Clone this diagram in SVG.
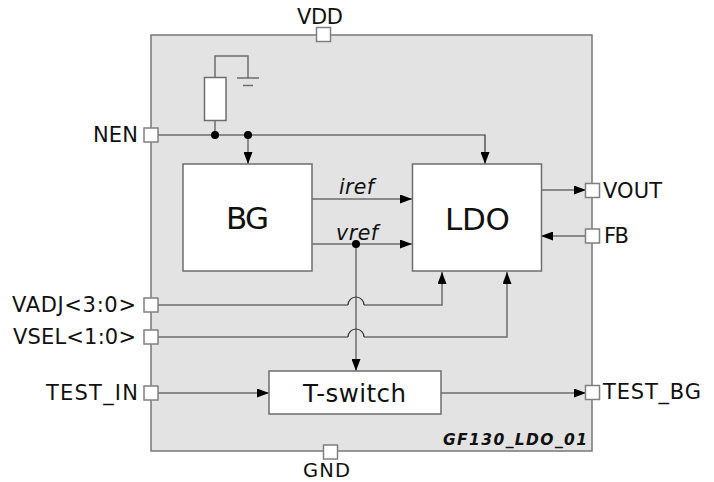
<svg xmlns="http://www.w3.org/2000/svg" width="714" height="482" viewBox="0 0 714 482">
<defs>
<marker id="arr" markerUnits="userSpaceOnUse" markerWidth="13" markerHeight="9" refX="12" refY="4.500" orient="auto"><path d="M0,0 L12,4.500 L0,9 Z" fill="#000"/></marker>
</defs>
<style>
text{font-family:"DejaVu Sans",sans-serif;fill:#111}
.lbl{font-size:21px}
.sig{font-size:20.500px;font-style:italic}
.big{font-size:31px}
.blk{fill:#fff;stroke:#6e6e6e;stroke-width:1.5}
.port{fill:#fff;stroke:#808080;stroke-width:1.5}
.w{fill:none;stroke:#333;stroke-width:1.2}
.g{fill:none;stroke:#6e6e6e;stroke-width:1.5}
.ar{marker-end:url(#arr)}
</style>
<rect id="chip" x="151" y="35" width="441" height="416" fill="#e3e3e3" stroke="#777" stroke-width="1.5"/>
<g id="connectors">
<path class="g" d="M215,77 V56 H248 V78"/>
<path class="g" d="M237,78 H259 M243,85.500 H253"/>
<path class="g" d="M215,121 V135"/>
<path class="w ar" d="M158,135 H485 V164"/>
<path class="g ar" d="M248,135 V164"/>
<path class="w ar" d="M312,199 H412"/>
<path class="w ar" d="M312,244 H412"/>
<path class="g ar" d="M356,244 V371"/>
<path class="g ar" d="M158,305 H348 M364,305 H442 V272"/>
<path class="g ar" d="M158,337 H348 M364,337 H507 V272"/>
<path class="w" d="M348,305 A8,8 0 0 1 364,305 M348,337 A8,8 0 0 1 364,337"/>
<path class="w ar" d="M158,393 H269"/>
<path class="w ar" d="M441,393 H586"/>
<path class="w ar" d="M541,190 H586"/>
<path class="w ar" d="M586,236 H541"/>
<circle cx="215" cy="135" r="4" fill="#000"/>
<circle cx="248" cy="135" r="4" fill="#000"/>
<circle cx="356" cy="244" r="4" fill="#000"/>
</g>
<g id="resistor"><rect class="blk" x="204.500" y="77.500" width="21.500" height="43"/></g>
<g id="BG"><rect class="blk" x="183" y="164" width="129" height="107"/><text class="big" x="226" y="229" textLength="43">BG</text></g>
<g id="LDO"><rect class="blk" x="412.500" y="164" width="129" height="107"/><text class="big" x="445" y="230" textLength="65">LDO</text></g>
<g id="T-switch"><rect class="blk" x="269" y="371" width="172" height="43"/><text x="303" y="402" font-size="24.500" textLength="103">T-switch</text></g>
<text class="sig" x="339" y="193.500" textLength="35">iref</text>
<text class="sig" x="336" y="239.500" textLength="42">vref</text>
<g id="VDD"><rect class="port" x="316.500" y="27.500" width="14" height="14"/><text class="lbl" x="297" y="23.500" textLength="46">VDD</text></g>
<g id="GND"><rect class="port" x="323.500" y="445" width="14" height="14"/><text x="303" y="477.300" font-size="19.500" textLength="47">GND</text></g>
<g id="NEN"><rect class="port" x="144" y="128" width="14" height="14"/><text class="lbl" x="93" y="142" textLength="45">NEN</text></g>
<g id="VADJ"><rect class="port" x="144" y="298" width="14" height="14"/><text class="lbl" x="12" y="311.500" textLength="124">VADJ&lt;3:0&gt;</text></g>
<g id="VSEL"><rect class="port" x="144" y="330" width="14" height="14"/><text class="lbl" x="13" y="343.500" textLength="123">VSEL&lt;1:0&gt;</text></g>
<g id="TEST_IN"><rect class="port" x="144" y="386" width="14" height="14"/><text class="lbl" x="46" y="400" textLength="92">TEST_IN</text></g>
<g id="VOUT"><rect class="port" x="585.500" y="183.500" width="14" height="14"/><text class="lbl" x="603" y="198" textLength="59">VOUT</text></g>
<g id="FB"><rect class="port" x="585.500" y="229" width="14" height="14"/><text class="lbl" x="604" y="243" textLength="25">FB</text></g>
<g id="TEST_BG"><rect class="port" x="585.500" y="385.500" width="14" height="14"/><text class="lbl" x="603" y="399" textLength="98">TEST_BG</text></g>
<text x="443" y="445" font-size="15.500" font-weight="bold" font-style="italic" textLength="144">GF130_LDO_01</text>
</svg>
